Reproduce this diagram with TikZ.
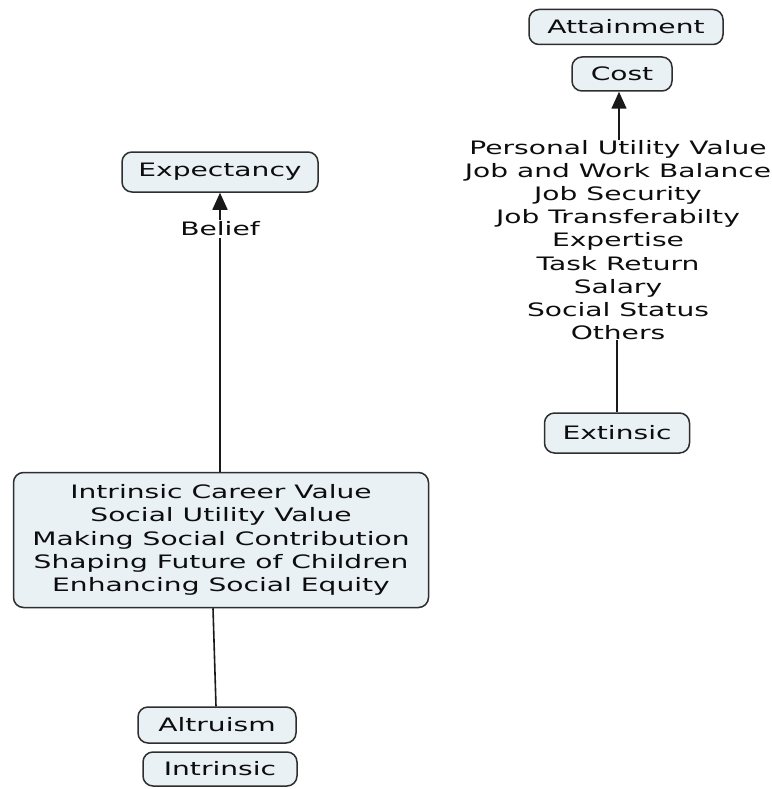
\documentclass[tikz,border=0pt]{standalone}
\usepackage{fontspec}
\setmainfont{DejaVu Sans}[FakeStretch=1.52]
\usetikzlibrary{arrows.meta}
\definecolor{boxfill}{HTML}{E9F1F5}
\definecolor{boxline}{HTML}{2E2E2E}
\tikzset{
  concept/.style={draw=boxline, line width=1.5pt, fill=boxfill, rounded corners=10pt,
    align=center, inner sep=0pt, font=\fontsize{18.5}{23.2}\selectfont, text=black!95},
  plain/.style={align=center, inner sep=0pt, font=\fontsize{18.5}{23.2}\selectfont, text=black!95},
  link/.style={draw=black!90, line width=1.6pt},
  arrowlink/.style={link, -{Triangle[width=15pt,length=17pt]}}
}
\begin{document}
\begin{tikzpicture}[x=1pt,y=-1pt]
\useasboundingbox (0,0) rectangle (771,789);
\node[concept, minimum width=194pt, minimum height=35pt] (att) at (626,27) {Attainment};
\node[concept, minimum width=100pt, minimum height=34pt] (cost) at (622,74) {Cost};
\node[plain] (vals) at (618,240) {Personal Utility Value\\Job and Work Balance\\Job Security\\Job Transferabilty\\Expertise\\Task Return\\Salary\\Social Status\\Others};
\node[concept, minimum width=145pt, minimum height=40pt] (ext) at (617,433) {Extinsic};
\node[concept, minimum width=196pt, minimum height=40pt] (exp) at (220,172) {Expectancy};
\node[concept, minimum width=415pt, minimum height=135pt] (big) at (221,540) {Intrinsic Career Value\\Social Utility Value\\Making Social Contribution\\Shaping Future of Children\\Enhancing Social Equity};
\node[concept, minimum width=158pt, minimum height=36pt] (alt) at (217,725) {Altruism};
\node[concept, minimum width=154pt, minimum height=34pt] (intr) at (220,769) {Intrinsic};
\draw[arrowlink] ([xshift=1pt]vals.north) -- ([xshift=1pt]vals.north |- cost.south);
\draw[link] (ext.north) -- (ext.north |- vals.south);
\draw[arrowlink] (big.north -| exp.south) -- node[pos=0.871, fill=white, inner sep=2pt, font=\fontsize{18.5}{23.2}\selectfont, text=black!95] (bel) {Belief} (exp.south);
\draw[link] ([xshift=-4pt]big.south -| alt.north) -- ([xshift=-1pt]alt.north);
\end{tikzpicture}
\end{document}
